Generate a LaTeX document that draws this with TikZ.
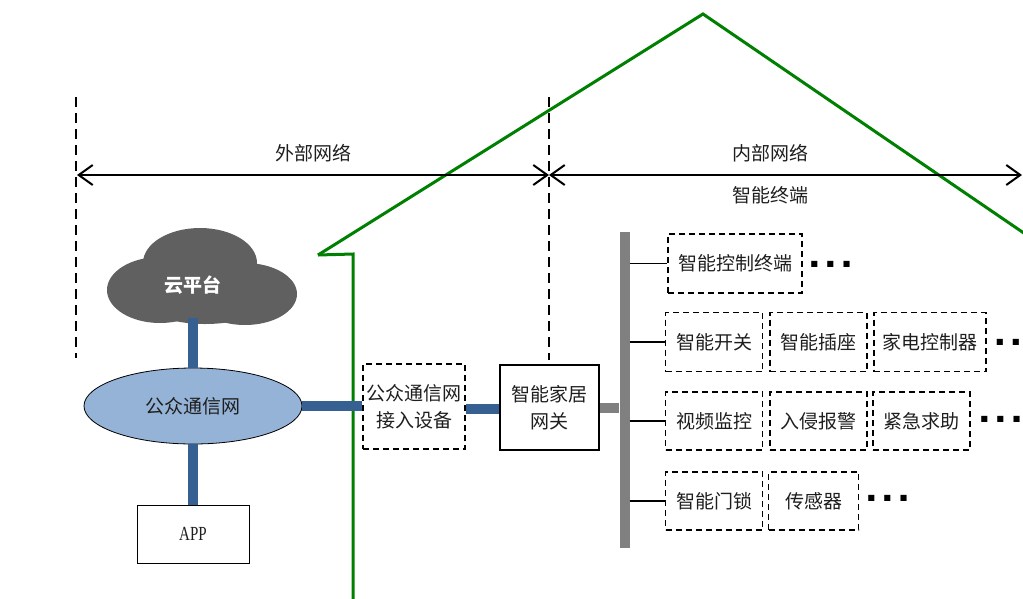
\documentclass[tikz,border=0pt]{standalone}
\usepackage{fontspec}
\usepackage{graphicx}
\setmainfont{Liberation Serif}
\newfontfamily\cjk{Noto Sans CJK SC}
\newfontfamily\dejavu{DejaVu Sans}
\usetikzlibrary{arrows.meta,shapes.geometric}
\definecolor{housegreen}{RGB}{0,128,0}
\definecolor{linkblue}{RGB}{54,96,146}
\definecolor{netfill}{RGB}{149,179,215}
\definecolor{cloudgray}{RGB}{96,96,96}
\definecolor{busgray}{RGB}{128,128,128}
\definecolor{txt}{RGB}{30,30,30}
\tikzset{
  cjktext/.style={font=\cjk\fontsize{19}{27}\selectfont, text=txt, align=center},
  devbox/.style={cjktext, draw=black, line width=1.3pt, dash pattern=on 6pt off 4pt, inner sep=0pt, minimum height=59pt},
  solidbox/.style={cjktext, draw=black, line width=1.3pt, inner sep=0pt},
  bluelink/.style={draw=linkblue, line width=10pt},
  graylink/.style={draw=busgray, line width=10pt},
  branch/.style={draw=black, line width=1.5pt},
  divider/.style={draw=black, line width=2pt, dash pattern=on 10pt off 6pt},
  dimline/.style={draw=black, line width=2pt, {Straight Barb[length=14pt,width=20pt,line width=2pt]}-{Straight Barb[length=14pt,width=20pt,line width=2pt]}},
  dots/.style={font=\dejavu\fontsize{8}{8}\selectfont, inner sep=0pt},
  house/.style={draw=housegreen, line width=3pt, line join=miter}
}
\begin{document}
\begin{tikzpicture}[x=1pt,y=-1pt]
\useasboundingbox (0,0) rectangle (1023,598);
\clip (0,0) rectangle (1023,598);
% house outline
\draw[house] (318,255) -- (703,14) -- (1045,247.5);
\draw[house] (318,255) -- (353,254) -- (353,605);

% dashed dividers
\coordinate (L1) at (76,97);
\coordinate (L2) at (76,358);
\coordinate (M1) at (549,97);
\coordinate (M2) at (549,360);
\draw[divider] (L1) -- (L2);
\draw[divider] (M1) -- (M2);

% dimension arrows
\coordinate (A) at (77,175);
\coordinate (B) at (549,175);
\coordinate (C) at (1022,175);
\draw[dimline] (A) -- (B);
\draw[dimline] (B) -- (C);
\node[cjktext] (ext) at (313,153) {外部网络};
\node[cjktext] (int) at (770,153) {内部网络};
\node[cjktext] (term) at (770,195) {智能终端};

% cloud
\fill[cloudgray] (160,290) ellipse [x radius=53, y radius=33];
\fill[cloudgray] (200,263) ellipse [x radius=57, y radius=35];
\fill[cloudgray] (245,294) ellipse [x radius=52, y radius=31];
\fill[cloudgray] (205,300) ellipse [x radius=62, y radius=24];
\node[font=\cjk\bfseries\fontsize{19}{24}\selectfont, text=white] (cloud) at (193,285) {云平台};
\coordinate (cloudbot) at (193,318);

% public network
\node[ellipse, draw=black, line width=0.8pt, fill=netfill, minimum width=218pt, minimum height=76pt, inner sep=0pt, cjktext] (pub) at (193,406) {公众通信网};
\node[solidbox, line width=1pt, minimum width=112pt, minimum height=58pt, font=\fontsize{20}{24}\selectfont] (app) at (193,534) {\scalebox{0.75}[1]{APP}};

% access and gateway
\node[devbox, minimum width=102pt, minimum height=85pt] (acc) at (414,406.5) {公众通信网\\接入设备};
\node[solidbox, minimum width=99pt, minimum height=85pt] (gw) at (549.5,407.5) {智能家居\\网关};

% bus
\node[fill=busgray, minimum width=10pt, minimum height=316pt, inner sep=0pt] (bus) at (624.5,390) {};

% connectors
\draw[bluelink] (cloudbot) -- (pub.north);
\draw[bluelink] (pub.south) -- (app.north);
\draw[bluelink] (pub.east) -- (acc.west |- pub.east);
\draw[bluelink] (acc.east |- gw.west) ++(0,1) coordinate (accr) (accr) -- (accr -| gw.west);
\draw[graylink] (gw.east) -- (gw.east -| bus.west);

% devices
\node[devbox, minimum width=134pt] (d1) at (735,263.5) {智能控制终端};
\node[devbox, minimum width=97pt] (d21) at (714,342) {智能开关};
\node[devbox, minimum width=97pt] (d22) at (818.5,342) {智能插座};
\node[devbox, minimum width=112pt] (d23) at (930,342) {家电控制器};
\node[devbox, minimum width=97pt, minimum height=58pt] (d31) at (714,421) {视频监控};
\node[devbox, minimum width=97pt, minimum height=58pt] (d32) at (818.5,421) {入侵报警};
\node[devbox, minimum width=97pt, minimum height=58pt] (d33) at (921.5,421) {紧急求助};
\node[devbox, minimum width=97pt, minimum height=58pt] (d41) at (714,501) {智能门锁};
\node[devbox, minimum width=90pt, minimum height=58pt] (d42) at (813.5,501) {传感器};

\draw[branch] (bus.east |- d1.west) -- (d1.west);
\draw[branch] (bus.east |- d21.west) -- (d21.west);
\draw[branch] (bus.east |- d31.west) -- (d31.west);
\draw[branch] (bus.east |- d41.west) -- (d41.west);

% ellipsis dots
\node[dots] (e1) at (830.5,264) {■\hspace{8.5pt}■\hspace{8.5pt}■};
\node[dots] (e2) at (1016,342) {■\hspace{8.5pt}■\hspace{8.5pt}■};
\node[dots] (e3) at (1000.5,419) {■\hspace{8.5pt}■\hspace{8.5pt}■};
\node[dots] (e4) at (887.5,498) {■\hspace{8.5pt}■\hspace{8.5pt}■};
\end{tikzpicture}
\end{document}
